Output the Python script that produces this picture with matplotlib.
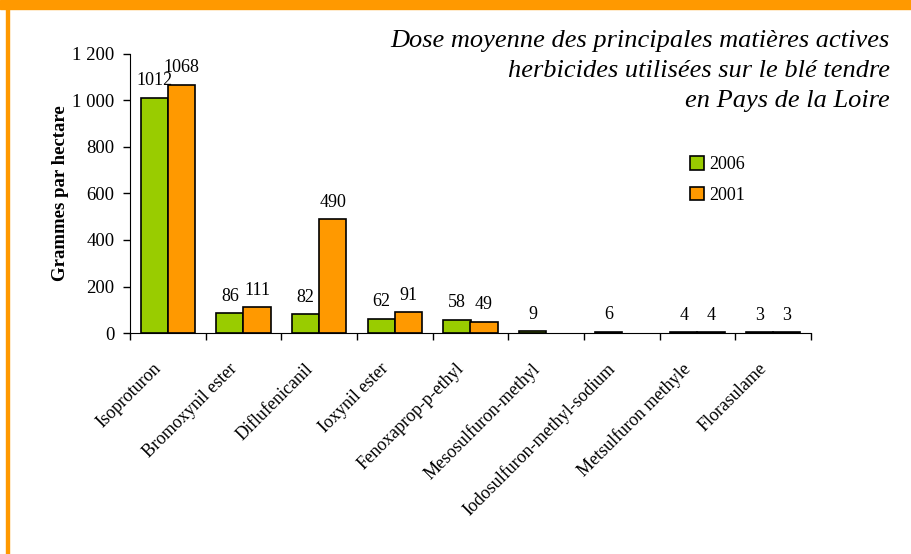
import matplotlib.pyplot as plt
import numpy as np

categories = ["Isoproturon", "Bromoxynil ester", "Diflufenicanil", "Ioxynil ester",
              "Fenoxaprop-p-ethyl", "Mesosulfuron-methyl", "Iodosulfuron-methyl-sodium",
              "Metsulfuron methyle", "Florasulame"]
dose_2006 = [1012, 86, 82, 62, 58, 9, 6, 4, 3]
dose_2001 = [1068, 111, 490, 91, 49, np.nan, np.nan, 4, 3]
yticks = [0, 200, 400, 600, 800, 1000, 1200]
ytick_labels = ["0", "200", "400", "600", "800", "1 000", "1 200"]

GREEN = "#99CC00"
ORANGE = "#FF9900"

plt.rcParams["font.family"] = ["Liberation Serif", "DejaVu Serif"]

fig = plt.figure(figsize=(9.12, 5.54), dpi=100)
fig.patches.append(plt.Rectangle((0, 1 - 9 / 554), 1, 9 / 554, transform=fig.transFigure,
                                 color=ORANGE, zorder=0))
fig.patches.append(plt.Rectangle((6 / 912, 0), 3 / 912, 1, transform=fig.transFigure,
                                 color=ORANGE, zorder=0))

ax = fig.add_axes([130 / 912, 221 / 554, 681 / 912, 279 / 554])

x = np.arange(len(categories)) + 0.5
w = 0.357
b1 = ax.bar(x - w / 2, dose_2006, w, color=GREEN, edgecolor="black", linewidth=1.2, label="2006")
b2 = ax.bar(x + w / 2, dose_2001, w, color=ORANGE, edgecolor="black", linewidth=1.2, label="2001")

for bars, vals in ((b1, dose_2006), (b2, dose_2001)):
    for bar, v in zip(bars, vals):
        if np.isnan(v):
            continue
        ax.annotate(str(v), (bar.get_x() + bar.get_width() / 2, v), xytext=(0, 6),
                    textcoords="offset points", ha="center", va="bottom", fontsize=13)

ax.set_xlim(0, len(categories))
ax.set_ylim(0, 1200)
ax.set_yticks(yticks)
ax.set_yticklabels(ytick_labels, fontsize=13.5)
ax.set_xticks(np.arange(len(categories) + 1))
ax.set_xticklabels([])

# slanted category names, placed a bit down-left of each group centre
for xi, name in zip(x, categories):
    ax.annotate(name, (xi, 0), xycoords=ax.get_xaxis_transform(), xytext=(-6.5, -24),
                textcoords="offset points", ha="right", va="center", rotation=45,
                rotation_mode="anchor", fontsize=13, annotation_clip=False)

ax.tick_params(axis="both", length=5, width=1, direction="out")
ax.tick_params(axis="y", pad=6)
ax.spines["top"].set_visible(False)
ax.spines["right"].set_visible(False)
ax.set_ylabel("Grammes par hectare", fontsize=13.5, fontweight="bold")
ax.yaxis.set_label_coords(-0.09, 0.5)

fig.text(890 / 912, 1 - 71 / 554,
         "Dose moyenne des principales matières actives\n"
         "herbicides utilisées sur le blé tendre\nen Pays de la Loire",
         ha="right", va="center", fontsize=19, style="italic", linespacing=1.48)

fig.legend(loc="upper left", bbox_to_anchor=(674 / 912, 1 - 140 / 554), frameon=False,
           fontsize=13, handlelength=0.75, handleheight=0.75, handletextpad=0.3,
           labelspacing=0.75)

fig.savefig("out.png", dpi=100)
